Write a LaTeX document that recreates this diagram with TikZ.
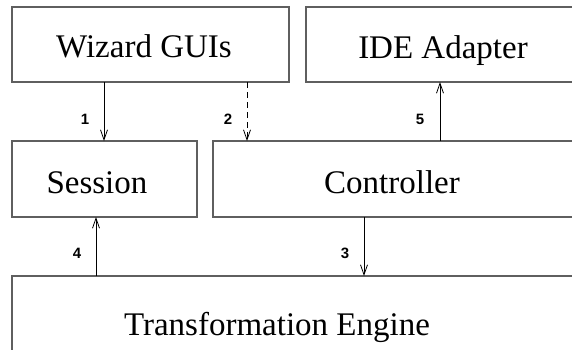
\documentclass[tikz,border=0pt]{standalone}
\usepackage{fontspec}
\setmainfont{Liberation Serif}
\newfontfamily\labelfont{Liberation Sans}
\usetikzlibrary{arrows.meta}
\definecolor{boxgray}{RGB}{95,95,95}
\begin{document}
\begin{tikzpicture}[x=1pt,y=-1pt,
  box/.style={draw=boxgray, line width=1.1pt, inner sep=0pt, outer sep=0pt, anchor=north west},
  title/.style={anchor=base, inner sep=0pt, font=\fontsize{33}{36}\selectfont},
  num/.style={anchor=base, inner sep=0pt, font=\labelfont\bfseries\fontsize{15}{18}\selectfont},
  arr/.style={line width=0.8pt, -{Straight Barb[length=10pt,width=7pt]}}]
\useasboundingbox (0,0) rectangle (572,349);
\clip (0,0) rectangle (572,349);
\fill[white] (0,0) rectangle (572,349);

% boxes
\node[box, minimum width=277pt, minimum height=75pt] (wiz) at (12,7) {};
\node[box, minimum width=300pt, minimum height=75pt] (ide) at (306,7) {};
\node[box, minimum width=185pt, minimum height=76pt] (sess) at (12,141) {};
\node[box, minimum width=400pt, minimum height=76pt] (ctrl) at (213,141) {};
\node[box, minimum width=600pt, minimum height=120pt] (trans) at (12,276) {};

% box titles
\node[title] (twiz) at (144,57) {Wizard GUIs};
\node[title] (tide) at (443,58) {IDE Adapter};
\node[title] (tsess) at (97,193) {Session};
\node[title] (tctrl) at (392,193) {Controller};
\node[title] (ttrans) at (277,335) {Transformation Engine};

% connectors
\draw[arr] ([xshift=92pt]wiz.south west) -- ([xshift=92pt]sess.north west);
\draw[arr, dashed, dash pattern=on 6pt off 4pt] ([xshift=235pt]wiz.south west) -- ([xshift=34pt]ctrl.north west);
\draw[arr] ([xshift=227pt]ctrl.north west) -- ([xshift=134pt]ide.south west);
\draw[arr] ([xshift=84pt]trans.north west) -- ([xshift=84pt]sess.south west);
\draw[arr] ([xshift=151pt]ctrl.south west) -- ([xshift=352pt]trans.north west);

% step numbers
\node[num] (n1) at (85,124) {1};
\node[num] (n2) at (228,124) {2};
\node[num] (n5) at (420,124) {5};
\node[num] (n4) at (77,258) {4};
\node[num] (n3) at (345,258) {3};
\end{tikzpicture}
\end{document}
